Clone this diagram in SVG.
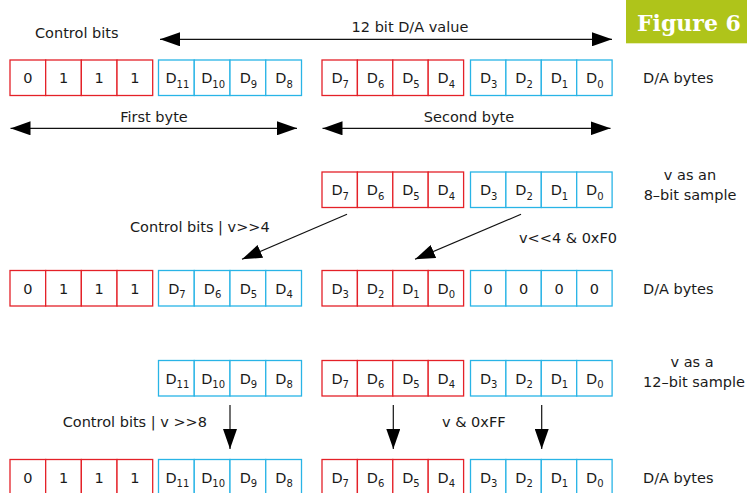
<svg xmlns="http://www.w3.org/2000/svg" width="747" height="493" viewBox="0 0 747 493">
<style>
.bg{fill:#ffffff}
.red rect{fill:#ffffff;stroke:#e42128;stroke-width:1.3}
.blue rect{fill:#ffffff;stroke:#29b4e6;stroke-width:1.3}
text{font-family:"DejaVu Sans","Noto Sans",sans-serif;font-size:14.5px;fill:#1a1a1a}
.c{text-anchor:middle}
.e{text-anchor:end}
.s{font-size:10px}
.conn line{stroke:#111;stroke-width:1.2;fill:none}
.badge-t{font-family:"DejaVu Serif","Liberation Serif",serif;font-weight:bold;font-size:22px;fill:#ffffff}
</style>
<defs>
<marker id="ah" markerUnits="userSpaceOnUse" markerWidth="20" markerHeight="14" refX="20" refY="7" orient="auto-start-reverse">
<path d="M0,0 L20,7 L0,14 Z" fill="#000"/>
</marker>
</defs>
<rect class="bg" x="0" y="0" width="747" height="493"/>

<g id="badge">
<rect x="626" y="0" width="121" height="43.3" fill="#afc41a"/>
<text class="badge-t" x="637" y="31">Figure 6</text>
</g>

<g id="labels">
<text x="35" y="38">Control bits</text>
<text class="c" x="410" y="32">12 bit D/A value</text>
<text class="c" x="154" y="122">First byte</text>
<text class="c" x="469" y="122">Second byte</text>
<text x="643" y="83">D/A bytes</text>
<text class="c" x="690" y="180">v as an</text>
<text class="c" x="690" y="200">8–bit sample</text>
<text x="130" y="231.5">Control bits | v&gt;&gt;4</text>
<text x="519" y="243">v&lt;&lt;4 &amp; 0xF0</text>
<text x="643" y="293.5">D/A bytes</text>
<text class="c" x="692" y="367">v as a</text>
<text class="c" x="694" y="387">12–bit sample</text>
<text class="e" x="207" y="427">Control bits | v &gt;&gt;8</text>
<text x="442" y="427">v &amp; 0xFF</text>
<text x="643" y="482.5">D/A bytes</text>
</g>

<!-- Row 1 -->
<g id="r1-ctrl" class="red">
<rect x="10" y="60" width="35.67" height="35.5"/><rect x="45.67" y="60" width="35.67" height="35.5"/><rect x="81.35" y="60" width="35.67" height="35.5"/><rect x="117.02" y="60" width="35.67" height="35.5"/>
<text class="c" x="27.8" y="83">0</text><text class="c" x="63.5" y="83">1</text><text class="c" x="99.2" y="83">1</text><text class="c" x="134.9" y="83">1</text>
</g>
<g id="r1-hi" class="blue">
<rect x="158.5" y="60" width="35.75" height="35.5"/><rect x="194.25" y="60" width="35.75" height="35.5"/><rect x="230" y="60" width="35.75" height="35.5"/><rect x="265.75" y="60" width="35.75" height="35.5"/>
<text class="c" x="177.4" y="83">D<tspan class="s" dy="4.5">11</tspan></text><text class="c" x="213.1" y="83">D<tspan class="s" dy="4.5">10</tspan></text><text class="c" x="248.4" y="83">D<tspan class="s" dy="4.5">9</tspan></text><text class="c" x="284.1" y="83">D<tspan class="s" dy="4.5">8</tspan></text>
</g>
<g id="r1-mid" class="red">
<rect x="322" y="60" width="35.4" height="35.5"/><rect x="357.4" y="60" width="35.4" height="35.5"/><rect x="392.8" y="60" width="35.4" height="35.5"/><rect x="428.2" y="60" width="35.4" height="35.5"/>
<text class="c" x="340.2" y="83">D<tspan class="s" dy="4.5">7</tspan></text><text class="c" x="375.6" y="83">D<tspan class="s" dy="4.5">6</tspan></text><text class="c" x="410.9" y="83">D<tspan class="s" dy="4.5">5</tspan></text><text class="c" x="446.3" y="83">D<tspan class="s" dy="4.5">4</tspan></text>
</g>
<g id="r1-lo" class="blue">
<rect x="470.5" y="60" width="35.4" height="35.5"/><rect x="505.9" y="60" width="35.4" height="35.5"/><rect x="541.3" y="60" width="35.4" height="35.5"/><rect x="576.7" y="60" width="35.4" height="35.5"/>
<text class="c" x="488.7" y="83">D<tspan class="s" dy="4.5">3</tspan></text><text class="c" x="524.1" y="83">D<tspan class="s" dy="4.5">2</tspan></text><text class="c" x="559.4" y="83">D<tspan class="s" dy="4.5">1</tspan></text><text class="c" x="594.8" y="83">D<tspan class="s" dy="4.5">0</tspan></text>
</g>

<!-- Row 2 -->
<g id="r2-mid" class="red">
<rect x="322" y="172" width="35.4" height="35.5"/><rect x="357.4" y="172" width="35.4" height="35.5"/><rect x="392.8" y="172" width="35.4" height="35.5"/><rect x="428.2" y="172" width="35.4" height="35.5"/>
<text class="c" x="340.2" y="195">D<tspan class="s" dy="4.5">7</tspan></text><text class="c" x="375.6" y="195">D<tspan class="s" dy="4.5">6</tspan></text><text class="c" x="410.9" y="195">D<tspan class="s" dy="4.5">5</tspan></text><text class="c" x="446.3" y="195">D<tspan class="s" dy="4.5">4</tspan></text>
</g>
<g id="r2-lo" class="blue">
<rect x="470.5" y="172" width="35.4" height="35.5"/><rect x="505.9" y="172" width="35.4" height="35.5"/><rect x="541.3" y="172" width="35.4" height="35.5"/><rect x="576.7" y="172" width="35.4" height="35.5"/>
<text class="c" x="488.7" y="195">D<tspan class="s" dy="4.5">3</tspan></text><text class="c" x="524.1" y="195">D<tspan class="s" dy="4.5">2</tspan></text><text class="c" x="559.4" y="195">D<tspan class="s" dy="4.5">1</tspan></text><text class="c" x="594.8" y="195">D<tspan class="s" dy="4.5">0</tspan></text>
</g>

<!-- Row 3 -->
<g id="r3-ctrl" class="red">
<rect x="10" y="270.5" width="35.67" height="35.5"/><rect x="45.67" y="270.5" width="35.67" height="35.5"/><rect x="81.35" y="270.5" width="35.67" height="35.5"/><rect x="117.02" y="270.5" width="35.67" height="35.5"/>
<text class="c" x="27.8" y="293.5">0</text><text class="c" x="63.5" y="293.5">1</text><text class="c" x="99.2" y="293.5">1</text><text class="c" x="134.9" y="293.5">1</text>
</g>
<g id="r3-hi" class="blue">
<rect x="158.5" y="270.5" width="35.75" height="35.5"/><rect x="194.25" y="270.5" width="35.75" height="35.5"/><rect x="230" y="270.5" width="35.75" height="35.5"/><rect x="265.75" y="270.5" width="35.75" height="35.5"/>
<text class="c" x="176.9" y="293.5">D<tspan class="s" dy="4.5">7</tspan></text><text class="c" x="212.6" y="293.5">D<tspan class="s" dy="4.5">6</tspan></text><text class="c" x="248.4" y="293.5">D<tspan class="s" dy="4.5">5</tspan></text><text class="c" x="284.1" y="293.5">D<tspan class="s" dy="4.5">4</tspan></text>
</g>
<g id="r3-mid" class="red">
<rect x="322" y="270.5" width="35.4" height="35.5"/><rect x="357.4" y="270.5" width="35.4" height="35.5"/><rect x="392.8" y="270.5" width="35.4" height="35.5"/><rect x="428.2" y="270.5" width="35.4" height="35.5"/>
<text class="c" x="340.2" y="293.5">D<tspan class="s" dy="4.5">3</tspan></text><text class="c" x="375.6" y="293.5">D<tspan class="s" dy="4.5">2</tspan></text><text class="c" x="410.9" y="293.5">D<tspan class="s" dy="4.5">1</tspan></text><text class="c" x="446.3" y="293.5">D<tspan class="s" dy="4.5">0</tspan></text>
</g>
<g id="r3-lo" class="blue">
<rect x="470.5" y="270.5" width="35.4" height="35.5"/><rect x="505.9" y="270.5" width="35.4" height="35.5"/><rect x="541.3" y="270.5" width="35.4" height="35.5"/><rect x="576.7" y="270.5" width="35.4" height="35.5"/>
<text class="c" x="488.2" y="293.5">0</text><text class="c" x="523.6" y="293.5">0</text><text class="c" x="559" y="293.5">0</text><text class="c" x="594.4" y="293.5">0</text>
</g>

<!-- Row 4 -->
<g id="r4-hi" class="blue">
<rect x="158.5" y="360.5" width="35.75" height="35.5"/><rect x="194.25" y="360.5" width="35.75" height="35.5"/><rect x="230" y="360.5" width="35.75" height="35.5"/><rect x="265.75" y="360.5" width="35.75" height="35.5"/>
<text class="c" x="177.4" y="383.5">D<tspan class="s" dy="4.5">11</tspan></text><text class="c" x="213.1" y="383.5">D<tspan class="s" dy="4.5">10</tspan></text><text class="c" x="248.4" y="383.5">D<tspan class="s" dy="4.5">9</tspan></text><text class="c" x="284.1" y="383.5">D<tspan class="s" dy="4.5">8</tspan></text>
</g>
<g id="r4-mid" class="red">
<rect x="322" y="360.5" width="35.4" height="35.5"/><rect x="357.4" y="360.5" width="35.4" height="35.5"/><rect x="392.8" y="360.5" width="35.4" height="35.5"/><rect x="428.2" y="360.5" width="35.4" height="35.5"/>
<text class="c" x="340.2" y="383.5">D<tspan class="s" dy="4.5">7</tspan></text><text class="c" x="375.6" y="383.5">D<tspan class="s" dy="4.5">6</tspan></text><text class="c" x="410.9" y="383.5">D<tspan class="s" dy="4.5">5</tspan></text><text class="c" x="446.3" y="383.5">D<tspan class="s" dy="4.5">4</tspan></text>
</g>
<g id="r4-lo" class="blue">
<rect x="470.5" y="360.5" width="35.4" height="35.5"/><rect x="505.9" y="360.5" width="35.4" height="35.5"/><rect x="541.3" y="360.5" width="35.4" height="35.5"/><rect x="576.7" y="360.5" width="35.4" height="35.5"/>
<text class="c" x="488.7" y="383.5">D<tspan class="s" dy="4.5">3</tspan></text><text class="c" x="524.1" y="383.5">D<tspan class="s" dy="4.5">2</tspan></text><text class="c" x="559.4" y="383.5">D<tspan class="s" dy="4.5">1</tspan></text><text class="c" x="594.8" y="383.5">D<tspan class="s" dy="4.5">0</tspan></text>
</g>

<!-- Row 5 -->
<g id="r5-ctrl" class="red">
<rect x="10" y="459.5" width="35.67" height="35.5"/><rect x="45.67" y="459.5" width="35.67" height="35.5"/><rect x="81.35" y="459.5" width="35.67" height="35.5"/><rect x="117.02" y="459.5" width="35.67" height="35.5"/>
<text class="c" x="27.8" y="482.5">0</text><text class="c" x="63.5" y="482.5">1</text><text class="c" x="99.2" y="482.5">1</text><text class="c" x="134.9" y="482.5">1</text>
</g>
<g id="r5-hi" class="blue">
<rect x="158.5" y="459.5" width="35.75" height="35.5"/><rect x="194.25" y="459.5" width="35.75" height="35.5"/><rect x="230" y="459.5" width="35.75" height="35.5"/><rect x="265.75" y="459.5" width="35.75" height="35.5"/>
<text class="c" x="177.4" y="482.5">D<tspan class="s" dy="4.5">11</tspan></text><text class="c" x="213.1" y="482.5">D<tspan class="s" dy="4.5">10</tspan></text><text class="c" x="248.4" y="482.5">D<tspan class="s" dy="4.5">9</tspan></text><text class="c" x="284.1" y="482.5">D<tspan class="s" dy="4.5">8</tspan></text>
</g>
<g id="r5-mid" class="red">
<rect x="322" y="459.5" width="35.4" height="35.5"/><rect x="357.4" y="459.5" width="35.4" height="35.5"/><rect x="392.8" y="459.5" width="35.4" height="35.5"/><rect x="428.2" y="459.5" width="35.4" height="35.5"/>
<text class="c" x="340.2" y="482.5">D<tspan class="s" dy="4.5">7</tspan></text><text class="c" x="375.6" y="482.5">D<tspan class="s" dy="4.5">6</tspan></text><text class="c" x="410.9" y="482.5">D<tspan class="s" dy="4.5">5</tspan></text><text class="c" x="446.3" y="482.5">D<tspan class="s" dy="4.5">4</tspan></text>
</g>
<g id="r5-lo" class="blue">
<rect x="470.5" y="459.5" width="35.4" height="35.5"/><rect x="505.9" y="459.5" width="35.4" height="35.5"/><rect x="541.3" y="459.5" width="35.4" height="35.5"/><rect x="576.7" y="459.5" width="35.4" height="35.5"/>
<text class="c" x="488.7" y="482.5">D<tspan class="s" dy="4.5">3</tspan></text><text class="c" x="524.1" y="482.5">D<tspan class="s" dy="4.5">2</tspan></text><text class="c" x="559.4" y="482.5">D<tspan class="s" dy="4.5">1</tspan></text><text class="c" x="594.8" y="482.5">D<tspan class="s" dy="4.5">0</tspan></text>
</g>

<g id="connectors" class="conn">
<line x1="160" y1="39.3" x2="612" y2="39.3" marker-start="url(#ah)" marker-end="url(#ah)"/>
<line x1="10.5" y1="128.3" x2="297" y2="128.3" marker-start="url(#ah)" marker-end="url(#ah)"/>
<line x1="322.5" y1="128.3" x2="610.5" y2="128.3" marker-start="url(#ah)" marker-end="url(#ah)"/>
<line x1="347" y1="214.3" x2="242" y2="259.3" marker-end="url(#ah)"/>
<line x1="521" y1="214.3" x2="415" y2="259.3" marker-end="url(#ah)"/>
<line x1="230" y1="405" x2="230" y2="449" marker-end="url(#ah)"/>
<line x1="393.3" y1="405" x2="393.3" y2="449" marker-end="url(#ah)"/>
<line x1="541.7" y1="405" x2="541.7" y2="449" marker-end="url(#ah)"/>
</g>
</svg>
